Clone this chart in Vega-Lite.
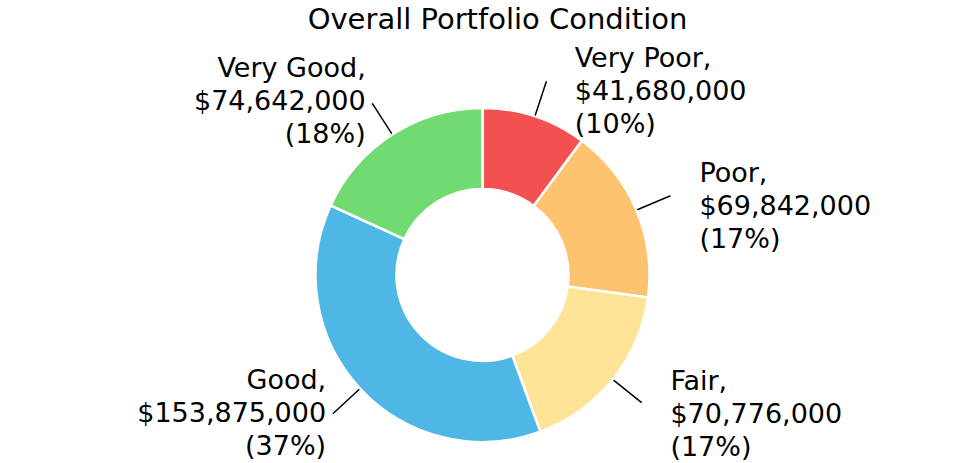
{
  "$schema": "https://vega.github.io/schema/vega-lite/v6.json",
  "width": 965,
  "height": 376,
  "autosize": {"type": "none"},
  "padding": {"top": 87, "left": 0, "right": 0, "bottom": 0},
  "background": "white",
  "title": {"text": "Overall Portfolio Condition", "font": "DejaVu Sans", "fontSize": 29, "fontWeight": "normal", "color": "#000", "frame": "group", "anchor": "middle", "offset": 10, "dx": 15},
  "config": {"view": {"stroke": null}},
  "data": {"values": [
    {"category": "Very Poor", "value": 41680000},
    {"category": "Poor", "value": 69842000},
    {"category": "Fair", "value": 70776000},
    {"category": "Good", "value": 153875000},
    {"category": "Very Good", "value": 74642000}
  ]},
  "transform": [
    {"window": [{"op": "row_number", "as": "idx"}]},
    {"joinaggregate": [{"op": "sum", "field": "value", "as": "total"}]},
    {"calculate": "datum.category + ',\\n$' + format(datum.value, ',') + '\\n(' + format(datum.value / datum.total, '.0%') + ')'", "as": "label"},
    {"stack": "value", "groupby": [], "sort": [{"field": "idx", "order": "ascending"}], "as": ["v0", "v1"]}
  ],
  "layer": [
    {
      "mark": {"type": "arc", "radius": 167, "radius2": 86, "stroke": "white", "strokeWidth": 2.5},
      "encoding": {
        "theta": {"field": "value", "type": "quantitative", "stack": true},
        "order": {"field": "idx", "type": "quantitative"},
        "color": {"field": "category", "type": "nominal", "legend": null,
          "scale": {"domain": ["Very Poor", "Poor", "Fair", "Good", "Very Good"],
                    "range": ["#F35050", "#FEC36F", "#FFE397", "#4FB7E6", "#71DB72"]}}
      }
    },
    {
      "transform": [
        {"fold": ["v0", "v1"], "as": ["edge", "pos"]},
        {"aggregate": [{"op": "mean", "field": "pos", "as": "mid"}], "groupby": ["category"]}
      ],
      "mark": {"type": "arc", "radius": 204, "radius2": 168, "fill": "transparent", "stroke": "#000", "strokeWidth": 1.5},
      "encoding": {
        "theta": {"field": "mid", "type": "quantitative", "stack": null},
        "theta2": {"field": "mid"}
      }
    },
    {
      "transform": [
        {"fold": ["v0", "v1"], "as": ["edge", "pos"]},
        {"aggregate": [{"op": "mean", "field": "pos", "as": "mid"}], "groupby": ["category", "label", "total"]},
        {"filter": "datum.mid < datum.total / 2"}
      ],
      "mark": {"type": "text", "radius": 205, "align": "left", "baseline": "middle", "dx": 28, "dy": -21, "lineBreak": "\n", "font": "DejaVu Sans", "fontSize": 27, "lineHeight": 33, "color": "#000"},
      "encoding": {
        "theta": {"field": "mid", "type": "quantitative", "stack": null},
        "text": {"field": "label"}
      }
    },
    {
      "transform": [
        {"fold": ["v0", "v1"], "as": ["edge", "pos"]},
        {"aggregate": [{"op": "mean", "field": "pos", "as": "mid"}], "groupby": ["category", "label", "total"]},
        {"filter": "datum.mid >= datum.total / 2"}
      ],
      "mark": {"type": "text", "radius": 205, "align": "right", "baseline": "middle", "dx": -6, "dy": -33, "lineBreak": "\n", "font": "DejaVu Sans", "fontSize": 27, "lineHeight": 33, "color": "#000"},
      "encoding": {
        "theta": {"field": "mid", "type": "quantitative", "stack": null},
        "text": {"field": "label"}
      }
    }
  ]
}
